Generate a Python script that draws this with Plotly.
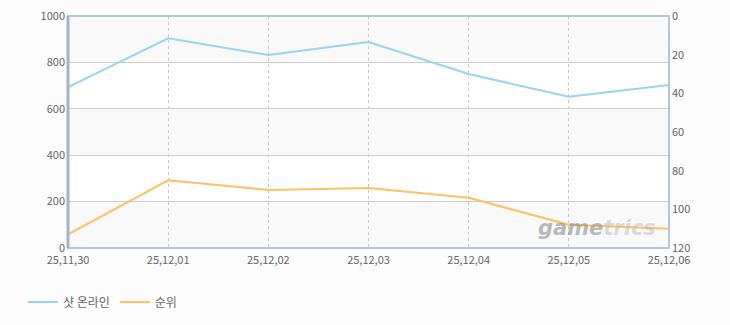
import plotly.graph_objects as go

categories = ["25,11,30", "25,12,01", "25,12,02", "25,12,03", "25,12,04", "25,12,05", "25,12,06"]
shot_online = [693, 904, 832, 888, 750, 652, 703]
rank = [113, 85, 90, 89, 94, 108, 110]

x_idx = list(range(len(categories)))

fig = go.Figure()
fig.add_trace(go.Scatter(x=x_idx, y=shot_online, name="샷 온라인", mode="lines",
                         line=dict(color="#99d3f2", width=2), yaxis="y"))
fig.add_trace(go.Scatter(x=x_idx, y=rank, name="순위", mode="lines",
                         line=dict(color="#fcc162", width=2), yaxis="y2"))

# alternating bands
shapes = []
for lo in (0, 400, 800):
    shapes.append(dict(type="rect", xref="paper", yref="y", x0=0, x1=1, y0=lo, y1=lo + 200,
                       fillcolor="#f9f9f9", line_width=0, layer="below"))
for lo in (200, 600):
    shapes.append(dict(type="rect", xref="paper", yref="y", x0=0, x1=1, y0=lo, y1=lo + 200,
                       fillcolor="#ffffff", line_width=0, layer="below"))
# border
shapes.append(dict(type="rect", xref="paper", yref="paper", x0=0, x1=1, y0=0, y1=1,
                   line=dict(color="#b3c6da", width=2), fillcolor="rgba(0,0,0,0)"))
shapes.append(dict(type="line", xref="paper", yref="paper", x0=0, x1=0, y0=0, y1=1,
                   line=dict(color="#a3b4c8", width=3)))

fig.update_layout(
    width=730, height=325,
    margin=dict(l=68, r=61, t=16, b=77, autoexpand=False),
    paper_bgcolor="#fcfcfc",
    plot_bgcolor="#fcfcfc",
    font=dict(family="Noto Sans CJK KR, DejaVu Sans", size=11, color="#666666"),
    shapes=shapes,
    xaxis=dict(tickmode="array", tickvals=x_idx, ticktext=categories, range=[0, 6],
               showgrid=True, gridcolor="#c8c8c8", griddash="3px,3px", gridwidth=1,
               zeroline=False, ticks="", tickfont=dict(size=11, color="#666666"),
               ticklabelstandoff=4),
    yaxis=dict(range=[0, 1000], tickvals=[0, 200, 400, 600, 800, 1000],
               showgrid=True, gridcolor="#cccccc", zeroline=False, ticks="",
               tickfont=dict(size=11, color="#666666"), ticklabelstandoff=2),
    yaxis2=dict(range=[120, 0], tickvals=[0, 20, 40, 60, 80, 100, 120], overlaying="y",
                side="right", showgrid=False, zeroline=False, ticks="",
                tickfont=dict(size=11, color="#666666"), ticklabelstandoff=2),
    legend=dict(orientation="h", x=-0.075, xanchor="left", y=-0.17, yanchor="top",
                font=dict(size=12, color="#666666"), bgcolor="rgba(0,0,0,0)"),
    annotations=[
        dict(text="<b><i><span style='color:rgba(140,140,140,0.8)'>game</span>"
                  "<span style='color:rgba(185,185,185,0.7)'>trics</span></i></b>",
             xref="paper", yref="paper",
             x=0.982, y=0.085, xanchor="right", yanchor="middle", showarrow=False,
             font=dict(size=21, color="rgba(150,150,150,0.75)", family="DejaVu Sans")),
    ],
)

fig.write_html("out.html")
